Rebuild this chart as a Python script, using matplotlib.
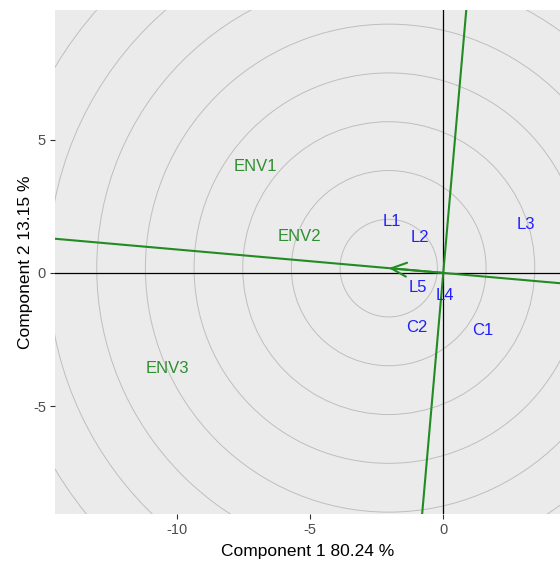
import numpy as np
import matplotlib
matplotlib.use("Agg")
import matplotlib.pyplot as plt
from matplotlib.patches import Circle

plt.rcParams['font.family'] = ['Liberation Sans', 'DejaVu Sans']
plt.rcParams['axes.unicode_minus'] = False

# ---- data ----
genotypes = ["L1", "L2", "L3", "L4", "L5", "C1", "C2"]
gen_x = [-1.95, -0.86, 3.11, 0.07, -0.94, 1.50, -1.01]
gen_y = [1.92, 1.32, 1.80, -0.86, -0.53, -2.14, -2.03]

environments = ["ENV1", "ENV2", "ENV3"]
env_x = [-7.08, -5.39, -10.37]
env_y = [3.98, 1.35, -3.57]

ideal = (-2.05, 0.18)      # centre of concentric circles / arrow tip
ring_step = 1.83
n_rings = 12

xlab = "Component 1 80.24 %"
ylab = "Component 2 13.15 %"
xticks = [-10, -5, 0]
yticks = [-5, 0, 5]
xlim = (-14.6, 4.39)
ylim = (-9.04, 9.86)

# ---- figure ----
fig = plt.figure(figsize=(5.6, 5.62), dpi=100)
ax = fig.add_axes([55/560, 1-514/562, 505/560, 504/562])
ax.set_facecolor("#EBEBEB")
for s in ax.spines.values():
    s.set_visible(False)

for k in range(1, n_rings + 1):
    ax.add_patch(Circle(ideal, ring_step * k, fill=False, edgecolor="#BEBEBE",
                        lw=0.7, zorder=1))

ax.axhline(0, color="black", lw=0.9, zorder=2)
ax.axvline(0, color="black", lw=0.9, zorder=2)

green = "#228B22"
ax.axline((0, 0), ideal, color=green, lw=1.5, zorder=3)
perp = (-ideal[1], ideal[0])
ax.axline((0, 0), perp, color=green, lw=1.5, zorder=3)
ax.annotate("", xy=ideal, xytext=(0, 0),
            arrowprops=dict(arrowstyle="->,head_length=1.1,head_width=0.5",
                            color=green, lw=1.5, shrinkA=0, shrinkB=0),
            zorder=4)

for lab, x, y in zip(genotypes, gen_x, gen_y):
    ax.text(x, y, lab, color="#1f1fff", fontsize=12, ha="center", va="center", zorder=5)
for lab, x, y in zip(environments, env_x, env_y):
    ax.text(x, y, lab, color="#2f8f2f", fontsize=12, ha="center", va="center", zorder=5)

ax.set_xlim(*xlim)
ax.set_ylim(*ylim)
ax.set_xticks(xticks)
ax.set_yticks(yticks)
ax.tick_params(axis="both", colors="#333333", labelcolor="#4D4D4D", labelsize=10.5,
               length=3.5, width=0.8)
ax.tick_params(axis="x", pad=3)
ax.tick_params(axis="y", pad=3)
ax.set_xlabel(xlab, fontsize=12.5, labelpad=5)
ax.set_ylabel(ylab, fontsize=12.5, labelpad=0)

fig.savefig("out.png", dpi=100)
